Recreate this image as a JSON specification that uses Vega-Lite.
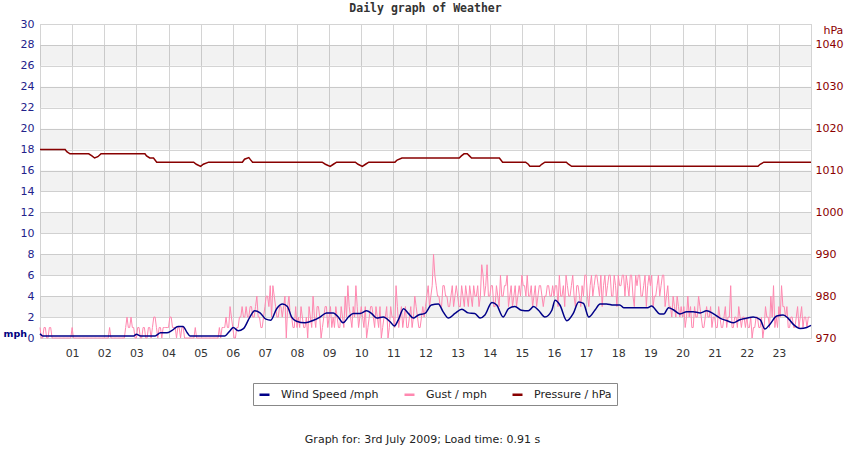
{
  "$schema": "https://vega.github.io/schema/vega-lite/v6.json",
  "width": 771,
  "height": 314,
  "autosize": "none",
  "padding": {"left": 40, "top": 24, "right": 39, "bottom": 112},
  "background": "white",
  "title": {
    "text": "Daily graph of Weather",
    "font": "DejaVu Sans Mono",
    "fontSize": 11.5,
    "fontWeight": "bold",
    "color": "#333333",
    "anchor": "middle",
    "baseline": "alphabetic",
    "offset": -5
  },
  "datasets": {
    "bands": [
      {"y1": 2, "y2": 4}, {"y1": 6, "y2": 8}, {"y1": 10, "y2": 12}, {"y1": 14, "y2": 16},
      {"y1": 18, "y2": 20}, {"y1": 22, "y2": 24}, {"y1": 26, "y2": 28}
    ],
    "gust": [
      {"m":0,"g":1},{"m":5,"g":0},{"m":10,"g":1},{"m":15,"g":0},{"m":20,"g":1},{"m":25,"g":0},{"m":30,"g":0},{"m":35,"g":0},{"m":40,"g":0},{"m":45,"g":0},{"m":50,"g":0},{"m":55,"g":0},
      {"m":60,"g":1},{"m":65,"g":0},{"m":70,"g":0},{"m":75,"g":0},{"m":80,"g":0},{"m":85,"g":0},{"m":90,"g":0},{"m":95,"g":0},{"m":100,"g":0},{"m":105,"g":0},{"m":110,"g":0},{"m":115,"g":0},
      {"m":120,"g":0},{"m":125,"g":0},{"m":130,"g":1},{"m":135,"g":0},{"m":140,"g":0},{"m":145,"g":0},{"m":150,"g":0},{"m":155,"g":0},{"m":160,"g":1},{"m":165,"g":1},{"m":170,"g":2},{"m":175,"g":1},
      {"m":180,"g":0},{"m":185,"g":1},{"m":190,"g":0},{"m":195,"g":1},{"m":200,"g":0},{"m":205,"g":1},{"m":210,"g":1},{"m":215,"g":2},{"m":220,"g":0},{"m":225,"g":1},{"m":230,"g":1},{"m":235,"g":1},
      {"m":240,"g":1},{"m":245,"g":2},{"m":250,"g":1},{"m":255,"g":0},{"m":260,"g":1},{"m":265,"g":1},{"m":270,"g":0},{"m":275,"g":0},{"m":280,"g":0},{"m":285,"g":0},{"m":290,"g":1},{"m":295,"g":0},
      {"m":300,"g":0},{"m":305,"g":0},{"m":310,"g":0},{"m":315,"g":0},{"m":320,"g":0},{"m":325,"g":0},{"m":330,"g":0},{"m":335,"g":1},{"m":340,"g":1},{"m":345,"g":1},{"m":350,"g":1},{"m":355,"g":3},
      {"m":360,"g":1},{"m":365,"g":0},{"m":370,"g":1},{"m":375,"g":2},{"m":380,"g":2},{"m":385,"g":3},{"m":390,"g":2},{"m":395,"g":3},{"m":400,"g":2},{"m":405,"g":4},{"m":410,"g":2},{"m":415,"g":1},
      {"m":420,"g":3},{"m":425,"g":4},{"m":430,"g":5},{"m":435,"g":5},{"m":440,"g":3},{"m":445,"g":2},{"m":450,"g":3},{"m":455,"g":3},{"m":460,"g":0},{"m":465,"g":4},{"m":470,"g":2},{"m":475,"g":1},
      {"m":480,"g":1},{"m":485,"g":1},{"m":490,"g":2},{"m":495,"g":1},{"m":500,"g":0},{"m":505,"g":2},{"m":510,"g":4},{"m":515,"g":1},{"m":520,"g":3},{"m":525,"g":0},{"m":530,"g":2},{"m":535,"g":3},
      {"m":540,"g":2},{"m":545,"g":1},{"m":550,"g":1},{"m":555,"g":2},{"m":560,"g":1},{"m":565,"g":2},{"m":570,"g":4},{"m":575,"g":5},{"m":580,"g":2},{"m":585,"g":3},{"m":590,"g":5},{"m":595,"g":1},
      {"m":600,"g":3},{"m":605,"g":1},{"m":610,"g":0},{"m":615,"g":2},{"m":620,"g":3},{"m":625,"g":1},{"m":630,"g":2},{"m":635,"g":3},{"m":640,"g":1},{"m":645,"g":2},{"m":650,"g":0},{"m":655,"g":3},
      {"m":660,"g":2},{"m":665,"g":5},{"m":670,"g":1},{"m":675,"g":3},{"m":680,"g":2},{"m":685,"g":1},{"m":690,"g":2},{"m":695,"g":1},{"m":700,"g":4},{"m":705,"g":2},{"m":710,"g":1},{"m":715,"g":3},
      {"m":720,"g":3},{"m":725,"g":5},{"m":730,"g":4},{"m":735,"g":8},{"m":740,"g":5},{"m":745,"g":4},{"m":750,"g":3},{"m":755,"g":5},{"m":760,"g":4},{"m":765,"g":3},{"m":770,"g":5},{"m":775,"g":4},
      {"m":780,"g":4},{"m":785,"g":3},{"m":790,"g":4},{"m":795,"g":5},{"m":800,"g":3},{"m":805,"g":4},{"m":810,"g":5},{"m":815,"g":4},{"m":820,"g":3},{"m":825,"g":7},{"m":830,"g":4},{"m":835,"g":7},
      {"m":840,"g":4},{"m":845,"g":5},{"m":850,"g":3},{"m":855,"g":4},{"m":860,"g":6},{"m":865,"g":4},{"m":870,"g":5},{"m":875,"g":3},{"m":880,"g":5},{"m":885,"g":4},{"m":890,"g":3},{"m":895,"g":5},
      {"m":900,"g":6},{"m":905,"g":5},{"m":910,"g":6},{"m":915,"g":4},{"m":920,"g":3},{"m":925,"g":5},{"m":930,"g":4},{"m":935,"g":5},{"m":940,"g":3},{"m":945,"g":4},{"m":950,"g":5},{"m":955,"g":4},
      {"m":960,"g":4},{"m":965,"g":5},{"m":970,"g":6},{"m":975,"g":4},{"m":980,"g":3},{"m":985,"g":5},{"m":990,"g":4},{"m":995,"g":6},{"m":1000,"g":3},{"m":1005,"g":5},{"m":1010,"g":3},{"m":1015,"g":4},
      {"m":1020,"g":6},{"m":1025,"g":3},{"m":1030,"g":6},{"m":1035,"g":5},{"m":1040,"g":6},{"m":1045,"g":4},{"m":1050,"g":3},{"m":1055,"g":6},{"m":1060,"g":5},{"m":1065,"g":6},{"m":1070,"g":4},{"m":1075,"g":5},
      {"m":1080,"g":6},{"m":1085,"g":5},{"m":1090,"g":6},{"m":1095,"g":6},{"m":1100,"g":4},{"m":1105,"g":6},{"m":1110,"g":3},{"m":1115,"g":5},{"m":1120,"g":6},{"m":1125,"g":4},{"m":1130,"g":6},{"m":1135,"g":5},
      {"m":1140,"g":5},{"m":1145,"g":3},{"m":1150,"g":4},{"m":1155,"g":6},{"m":1160,"g":5},{"m":1165,"g":6},{"m":1170,"g":4},{"m":1175,"g":3},{"m":1180,"g":2},{"m":1185,"g":3},{"m":1190,"g":4},{"m":1195,"g":2},
      {"m":1200,"g":2},{"m":1205,"g":1},{"m":1210,"g":4},{"m":1215,"g":3},{"m":1220,"g":1},{"m":1225,"g":2},{"m":1230,"g":4},{"m":1235,"g":2},{"m":1240,"g":1},{"m":1245,"g":3},{"m":1250,"g":2},{"m":1255,"g":1},
      {"m":1260,"g":2},{"m":1265,"g":1},{"m":1270,"g":2},{"m":1275,"g":1},{"m":1280,"g":3},{"m":1285,"g":2},{"m":1290,"g":5},{"m":1295,"g":1},{"m":1300,"g":2},{"m":1305,"g":3},{"m":1310,"g":1},{"m":1315,"g":2},
      {"m":1320,"g":2},{"m":1325,"g":1},{"m":1330,"g":0},{"m":1335,"g":1},{"m":1340,"g":2},{"m":1345,"g":1},{"m":1350,"g":0},{"m":1355,"g":3},{"m":1360,"g":2},{"m":1365,"g":4},{"m":1370,"g":5},{"m":1375,"g":2},
      {"m":1380,"g":3},{"m":1385,"g":5},{"m":1390,"g":3},{"m":1395,"g":3},{"m":1400,"g":1},{"m":1405,"g":2},{"m":1410,"g":1},{"m":1415,"g":3},{"m":1420,"g":2},{"m":1425,"g":1},{"m":1430,"g":2},{"m":1435,"g":2},
      {"m":2.5,"g":0},{"m":7.5,"g":1},{"m":12.5,"g":0},{"m":17.5,"g":1},{"m":22.5,"g":0},{"m":27.5,"g":0},{"m":32.5,"g":0},{"m":37.5,"g":0},{"m":42.5,"g":0},{"m":47.5,"g":0},{"m":52.5,"g":0},{"m":57.5,"g":0},
      {"m":62.5,"g":0},{"m":67.5,"g":0},{"m":72.5,"g":0},{"m":77.5,"g":0},{"m":82.5,"g":0},{"m":87.5,"g":0},{"m":92.5,"g":0},{"m":97.5,"g":0},{"m":102.5,"g":0},{"m":107.5,"g":0},{"m":112.5,"g":0},{"m":117.5,"g":0},
      {"m":122.5,"g":0},{"m":127.5,"g":0},{"m":132.5,"g":0},{"m":137.5,"g":0},{"m":142.5,"g":0},{"m":147.5,"g":0},{"m":152.5,"g":0},{"m":157.5,"g":0},{"m":162.5,"g":2},{"m":167.5,"g":1},{"m":172.5,"g":1},{"m":177.5,"g":0},
      {"m":182.5,"g":1},{"m":187.5,"g":0},{"m":192.5,"g":1},{"m":197.5,"g":0},{"m":202.5,"g":1},{"m":207.5,"g":0},{"m":212.5,"g":2},{"m":217.5,"g":1},{"m":222.5,"g":1},{"m":227.5,"g":0},{"m":232.5,"g":1},{"m":237.5,"g":1},
      {"m":242.5,"g":2},{"m":247.5,"g":1},{"m":252.5,"g":1},{"m":257.5,"g":1},{"m":262.5,"g":0},{"m":267.5,"g":1},{"m":272.5,"g":0},{"m":277.5,"g":0},{"m":282.5,"g":0},{"m":287.5,"g":0},{"m":292.5,"g":0},{"m":297.5,"g":0},
      {"m":302.5,"g":0},{"m":307.5,"g":0},{"m":312.5,"g":0},{"m":317.5,"g":0},{"m":322.5,"g":0},{"m":327.5,"g":0},{"m":332.5,"g":0},{"m":337.5,"g":0},{"m":342.5,"g":1},{"m":347.5,"g":2},{"m":352.5,"g":1},{"m":357.5,"g":2},
      {"m":362.5,"g":0},{"m":367.5,"g":1},{"m":372.5,"g":2},{"m":377.5,"g":3},{"m":382.5,"g":2},{"m":387.5,"g":2},{"m":392.5,"g":3},{"m":397.5,"g":2},{"m":402.5,"g":3},{"m":407.5,"g":2},{"m":412.5,"g":1},{"m":417.5,"g":2},
      {"m":422.5,"g":4},{"m":427.5,"g":3},{"m":432.5,"g":2},{"m":437.5,"g":4},{"m":442.5,"g":2},{"m":447.5,"g":3},{"m":452.5,"g":2},{"m":457.5,"g":4},{"m":462.5,"g":3},{"m":467.5,"g":2},{"m":472.5,"g":1},{"m":477.5,"g":3},
      {"m":482.5,"g":2},{"m":487.5,"g":3},{"m":492.5,"g":1},{"m":497.5,"g":2},{"m":502.5,"g":3},{"m":507.5,"g":1},{"m":512.5,"g":2},{"m":517.5,"g":3},{"m":522.5,"g":2},{"m":527.5,"g":1},{"m":532.5,"g":3},{"m":537.5,"g":1},
      {"m":542.5,"g":3},{"m":547.5,"g":2},{"m":552.5,"g":3},{"m":557.5,"g":1},{"m":562.5,"g":3},{"m":567.5,"g":1},{"m":572.5,"g":2},{"m":577.5,"g":3},{"m":582.5,"g":1},{"m":587.5,"g":2},{"m":592.5,"g":3},{"m":597.5,"g":2},
      {"m":602.5,"g":2},{"m":607.5,"g":3},{"m":612.5,"g":1},{"m":617.5,"g":3},{"m":622.5,"g":2},{"m":627.5,"g":3},{"m":632.5,"g":1},{"m":637.5,"g":0},{"m":642.5,"g":2},{"m":647.5,"g":3},{"m":652.5,"g":1},{"m":657.5,"g":2},
      {"m":662.5,"g":1},{"m":667.5,"g":3},{"m":672.5,"g":2},{"m":677.5,"g":1},{"m":682.5,"g":3},{"m":687.5,"g":1},{"m":692.5,"g":3},{"m":697.5,"g":2},{"m":702.5,"g":3},{"m":707.5,"g":1},{"m":712.5,"g":2},{"m":717.5,"g":2},
      {"m":722.5,"g":4},{"m":727.5,"g":3},{"m":732.5,"g":5},{"m":737.5,"g":6},{"m":742.5,"g":4},{"m":747.5,"g":3},{"m":752.5,"g":5},{"m":757.5,"g":4},{"m":762.5,"g":3},{"m":767.5,"g":4},{"m":772.5,"g":3},{"m":777.5,"g":5},
      {"m":782.5,"g":3},{"m":787.5,"g":5},{"m":792.5,"g":3},{"m":797.5,"g":4},{"m":802.5,"g":5},{"m":807.5,"g":3},{"m":812.5,"g":4},{"m":817.5,"g":5},{"m":822.5,"g":4},{"m":827.5,"g":6},{"m":832.5,"g":5},{"m":837.5,"g":4},
      {"m":842.5,"g":5},{"m":847.5,"g":3},{"m":852.5,"g":5},{"m":857.5,"g":3},{"m":862.5,"g":4},{"m":867.5,"g":5},{"m":872.5,"g":6},{"m":877.5,"g":4},{"m":882.5,"g":3},{"m":887.5,"g":5},{"m":892.5,"g":4},{"m":897.5,"g":4},
      {"m":902.5,"g":5},{"m":907.5,"g":4},{"m":912.5,"g":4},{"m":917.5,"g":5},{"m":922.5,"g":4},{"m":927.5,"g":3},{"m":932.5,"g":5},{"m":937.5,"g":4},{"m":942.5,"g":4},{"m":947.5,"g":5},{"m":952.5,"g":4},{"m":957.5,"g":5},
      {"m":962.5,"g":5},{"m":967.5,"g":3},{"m":972.5,"g":4},{"m":977.5,"g":5},{"m":982.5,"g":6},{"m":987.5,"g":4},{"m":992.5,"g":5},{"m":997.5,"g":4},{"m":1002.5,"g":5},{"m":1007.5,"g":4},{"m":1012.5,"g":5},{"m":1017.5,"g":6},
      {"m":1022.5,"g":4},{"m":1027.5,"g":5},{"m":1032.5,"g":4},{"m":1037.5,"g":6},{"m":1042.5,"g":5},{"m":1047.5,"g":6},{"m":1052.5,"g":5},{"m":1057.5,"g":4},{"m":1062.5,"g":6},{"m":1067.5,"g":4},{"m":1072.5,"g":6},{"m":1077.5,"g":3},
      {"m":1082.5,"g":5},{"m":1087.5,"g":6},{"m":1092.5,"g":4},{"m":1097.5,"g":5},{"m":1102.5,"g":6},{"m":1107.5,"g":4},{"m":1112.5,"g":6},{"m":1117.5,"g":6},{"m":1122.5,"g":4},{"m":1127.5,"g":5},{"m":1132.5,"g":3},{"m":1137.5,"g":6},
      {"m":1142.5,"g":6},{"m":1147.5,"g":4},{"m":1152.5,"g":5},{"m":1157.5,"g":4},{"m":1162.5,"g":6},{"m":1167.5,"g":3},{"m":1172.5,"g":5},{"m":1177.5,"g":3},{"m":1182.5,"g":4},{"m":1187.5,"g":2},{"m":1192.5,"g":3},{"m":1197.5,"g":3},
      {"m":1202.5,"g":3},{"m":1207.5,"g":2},{"m":1212.5,"g":2},{"m":1217.5,"g":1},{"m":1222.5,"g":3},{"m":1227.5,"g":2},{"m":1232.5,"g":3},{"m":1237.5,"g":1},{"m":1242.5,"g":2},{"m":1247.5,"g":2},{"m":1252.5,"g":3},{"m":1257.5,"g":2},
      {"m":1262.5,"g":1},{"m":1267.5,"g":3},{"m":1272.5,"g":1},{"m":1277.5,"g":2},{"m":1282.5,"g":1},{"m":1287.5,"g":2},{"m":1292.5,"g":1},{"m":1297.5,"g":2},{"m":1302.5,"g":1},{"m":1307.5,"g":2},{"m":1312.5,"g":2},{"m":1317.5,"g":1},
      {"m":1322.5,"g":1},{"m":1327.5,"g":2},{"m":1332.5,"g":1},{"m":1337.5,"g":2},{"m":1342.5,"g":1},{"m":1347.5,"g":2},{"m":1352.5,"g":1},{"m":1357.5,"g":2},{"m":1362.5,"g":1},{"m":1367.5,"g":2},{"m":1372.5,"g":1},{"m":1377.5,"g":1},
      {"m":1382.5,"g":2},{"m":1387.5,"g":3},{"m":1392.5,"g":2},{"m":1397.5,"g":1},{"m":1402.5,"g":2},{"m":1407.5,"g":1},{"m":1412.5,"g":2},{"m":1417.5,"g":1},{"m":1422.5,"g":3},{"m":1427.5,"g":2},{"m":1432.5,"g":1},{"m":1437.5,"g":2}
    ],
    "wind": [
      {"m":0,"w":0.4},{"m":5,"w":0.2},{"m":175,"w":0.2},{"m":180,"w":0.35},{"m":188,"w":0.2},{"m":215,"w":0.2},{"m":225,"w":0.5},{"m":237,"w":0.5},{"m":246,"w":0.7},{"m":258,"w":1.1},{"m":267,"w":1.1},{"m":275,"w":0.5},{"m":280,"w":0.2},
      {"m":345,"w":0.2},{"m":350,"w":0.4},{"m":355,"w":0.7},{"m":361,"w":1.0},{"m":370,"w":0.7},{"m":380,"w":0.9},{"m":392,"w":2.0},{"m":401,"w":2.6},{"m":411,"w":2.4},{"m":422,"w":1.8},{"m":431,"w":1.7},{"m":442,"w":2.8},{"m":453,"w":3.25},{"m":462,"w":3.0},{"m":470,"w":2.0},{"m":479,"w":1.6},
      {"m":495,"w":1.45},{"m":511,"w":1.7},{"m":523,"w":2.0},{"m":535,"w":2.4},{"m":548,"w":2.4},{"m":557,"w":2.0},{"m":566,"w":1.45},{"m":576,"w":2.0},{"m":585,"w":2.35},{"m":598,"w":2.35},{"m":610,"w":2.6},{"m":619,"w":2.35},{"m":629,"w":1.9},{"m":641,"w":2.0},
      {"m":654,"w":1.55},{"m":662,"w":1.15},{"m":669,"w":1.7},{"m":679,"w":2.8},{"m":688,"w":2.35},{"m":697,"w":1.9},{"m":707,"w":2.2},{"m":719,"w":2.35},{"m":731,"w":3.15},{"m":744,"w":3.25},{"m":753,"w":2.5},{"m":763,"w":1.9},{"m":775,"w":2.35},{"m":788,"w":2.75},
      {"m":800,"w":2.4},{"m":812,"w":2.35},{"m":822,"w":1.9},{"m":831,"w":2.2},{"m":844,"w":3.4},{"m":853,"w":3.15},{"m":865,"w":2.0},{"m":875,"w":2.8},{"m":887,"w":3.0},{"m":899,"w":2.65},{"m":912,"w":2.6},{"m":922,"w":3.0},{"m":931,"w":2.65},{"m":943,"w":2.0},
      {"m":956,"w":2.65},{"m":962,"w":3.6},{"m":971,"w":3.15},{"m":984,"w":1.65},{"m":996,"w":2.35},{"m":1006,"w":3.45},{"m":1015,"w":3.3},{"m":1025,"w":2.0},{"m":1037,"w":2.7},{"m":1046,"w":3.25},{"m":1058,"w":3.25},{"m":1071,"w":3.15},{"m":1083,"w":3.15},{"m":1090,"w":2.9},
      {"m":1135,"w":2.9},{"m":1142,"w":3.05},{"m":1158,"w":2.3},{"m":1165,"w":2.3},{"m":1174,"w":2.9},{"m":1183,"w":2.7},{"m":1195,"w":2.3},{"m":1208,"w":2.5},{"m":1220,"w":2.5},{"m":1233,"w":2.4},{"m":1245,"w":2.6},{"m":1258,"w":2.3},{"m":1270,"w":1.9},{"m":1283,"w":1.65},
      {"m":1295,"w":1.45},{"m":1307,"w":1.75},{"m":1320,"w":1.9},{"m":1332,"w":2.0},{"m":1345,"w":1.75},{"m":1354,"w":0.85},{"m":1363,"w":1.3},{"m":1376,"w":2.1},{"m":1388,"w":2.2},{"m":1397,"w":1.9},{"m":1407,"w":1.3},{"m":1420,"w":0.9},{"m":1432,"w":1.0},{"m":1440,"w":1.2}
    ],
    "pressure": [
      {"m":0,"p":1015},{"m":47,"p":1015},{"m":50,"p":1014.5},{"m":56,"p":1014},{"m":91,"p":1014},{"m":97,"p":1013.5},{"m":102,"p":1013},{"m":108,"p":1013.3},{"m":114,"p":1014},
      {"m":196,"p":1014},{"m":199,"p":1013.5},{"m":205,"p":1013},{"m":212,"p":1013},{"m":218,"p":1012},{"m":287,"p":1012},{"m":292,"p":1011.5},{"m":300,"p":1011},{"m":305,"p":1011.5},{"m":315,"p":1012},
      {"m":378,"p":1012},{"m":382,"p":1012.7},{"m":390,"p":1013.1},{"m":393,"p":1012.6},{"m":397,"p":1012},{"m":527,"p":1012},{"m":533,"p":1011.5},{"m":542,"p":1011},{"m":548,"p":1011.5},{"m":554,"p":1012},
      {"m":589,"p":1012},{"m":594,"p":1011.5},{"m":602,"p":1011},{"m":608,"p":1011.5},{"m":614,"p":1012},{"m":663,"p":1012},{"m":667,"p":1012.5},{"m":676,"p":1013},{"m":783,"p":1013},{"m":787,"p":1013.5},
      {"m":792,"p":1014},{"m":798,"p":1014},{"m":802,"p":1013.5},{"m":806,"p":1013},{"m":858,"p":1013},{"m":864,"p":1012},{"m":907,"p":1012},{"m":912,"p":1011.5},{"m":915,"p":1011},{"m":933,"p":1011},
      {"m":937,"p":1011.5},{"m":943,"p":1012},{"m":983,"p":1012},{"m":987,"p":1011.5},{"m":993,"p":1011},{"m":1341,"p":1011},{"m":1345,"p":1011.5},{"m":1352,"p":1012},{"m":1440,"p":1012}
    ]
  },
  "layer": [
    {
      "data": {"name": "bands"},
      "mark": {"type": "rect", "color": "#000000", "opacity": 0.05},
      "encoding": {
        "y": {"field": "y1", "type": "quantitative", "scale": {"domain": [0, 30], "nice": false}, "axis": null},
        "y2": {"field": "y2"}
      }
    },
    {
      "data": {"name": "gust"},
      "mark": {"type": "line", "strokeWidth": 1},
      "encoding": {
        "x": {
          "field": "m", "type": "quantitative",
          "scale": {"domain": [0, 1440], "nice": false, "zero": false},
          "axis": {
            "orient": "bottom",
            "values": [0,60,120,180,240,300,360,420,480,540,600,660,720,780,840,900,960,1020,1080,1140,1200,1260,1320,1380,1440],
            "labelExpr": "datum.value == 0 || datum.value == 1440 ? '' : (datum.value < 600 ? '0' : '') + (datum.value / 60)",
            "labelOverlap": false,
            "grid": true, "gridColor": "#d4d4d4", "ticks": false, "domain": false,
            "labelFont": "DejaVu Sans", "labelFontSize": 11, "labelColor": "#333333", "labelPadding": 9,
            "title": "Graph for: 3rd July 2009; Load time: 0.91 s",
            "titleFont": "DejaVu Sans", "titleFontSize": 11, "titleFontWeight": "normal", "titleColor": "#222222",
            "titleX": 382, "titleY": 104, "titleAlign": "center", "titleBaseline": "alphabetic"
          }
        },
        "y": {"field": "g", "type": "quantitative", "scale": {"domain": [0, 30], "nice": false}, "axis": null},
        "color": {"datum": "Gust / mph"}
      }
    },
    {
      "data": {"name": "wind"},
      "mark": {"type": "line", "strokeWidth": 1.5, "interpolate": "monotone"},
      "encoding": {
        "x": {
          "field": "m", "type": "quantitative",
          "scale": {"domain": [0, 1440], "nice": false, "zero": false},
          "axis": {
            "orient": "bottom",
            "values": [0,60,120,180,240,300,360,420,480,540,600,660,720,780,840,900,960,1020,1080,1140,1200,1260,1320,1380,1440],
            "labelExpr": "datum.value == 0 || datum.value == 1440 ? '' : (datum.value < 600 ? '0' : '') + (datum.value / 60)",
            "labelOverlap": false,
            "grid": true, "gridColor": "#d4d4d4", "ticks": false, "domain": false,
            "labelFont": "DejaVu Sans", "labelFontSize": 11, "labelColor": "#333333", "labelPadding": 9,
            "title": "Graph for: 3rd July 2009; Load time: 0.91 s",
            "titleFont": "DejaVu Sans", "titleFontSize": 11, "titleFontWeight": "normal", "titleColor": "#222222",
            "titleX": 382, "titleY": 104, "titleAlign": "center", "titleBaseline": "alphabetic"
          }
        },
        "y": {
          "field": "w", "type": "quantitative",
          "scale": {"domain": [0, 30], "nice": false},
          "axis": {
            "orient": "left",
            "values": [0,2,4,6,8,10,12,14,16,18,20,22,24,26,28,30],
            "grid": true, "gridColor": "#d4d4d4", "ticks": false, "domain": false,
            "labelFont": "DejaVu Sans", "labelFontSize": 11, "labelColor": "#22228b", "labelPadding": 6,
            "title": "mph", "titleAngle": 0, "titleFont": "DejaVu Sans", "titleFontSize": 9.5, "titleFontWeight": "bold",
            "titleColor": "#000080", "titleX": -37, "titleY": 312, "titleAlign": "left", "titleBaseline": "alphabetic"
          }
        },
        "color": {"datum": "Wind Speed /mph"}
      }
    },
    {
      "data": {"name": "pressure"},
      "mark": {"type": "line", "strokeWidth": 1.5},
      "encoding": {
        "x": {
          "field": "m", "type": "quantitative",
          "scale": {"domain": [0, 1440], "nice": false, "zero": false},
          "axis": {
            "orient": "bottom",
            "values": [0,60,120,180,240,300,360,420,480,540,600,660,720,780,840,900,960,1020,1080,1140,1200,1260,1320,1380,1440],
            "labelExpr": "datum.value == 0 || datum.value == 1440 ? '' : (datum.value < 600 ? '0' : '') + (datum.value / 60)",
            "labelOverlap": false,
            "grid": true, "gridColor": "#d4d4d4", "ticks": false, "domain": false,
            "labelFont": "DejaVu Sans", "labelFontSize": 11, "labelColor": "#333333", "labelPadding": 9,
            "title": "Graph for: 3rd July 2009; Load time: 0.91 s",
            "titleFont": "DejaVu Sans", "titleFontSize": 11, "titleFontWeight": "normal", "titleColor": "#222222",
            "titleX": 382, "titleY": 104, "titleAlign": "center", "titleBaseline": "alphabetic"
          }
        },
        "y": {
          "field": "p", "type": "quantitative",
          "scale": {"domain": [970, 1045], "nice": false, "zero": false},
          "axis": {
            "orient": "right",
            "values": [970,980,990,1000,1010,1020,1030,1040],
            "format": "d",
            "grid": false, "ticks": false, "domain": false,
            "labelFont": "DejaVu Sans", "labelFontSize": 11, "labelColor": "#8b0000", "labelPadding": 4,
            "title": "hPa", "titleAngle": 0, "titleFont": "DejaVu Sans", "titleFontSize": 11, "titleFontWeight": "normal",
            "titleColor": "#8b0000", "titleX": 12, "titleY": 9, "titleAlign": "left", "titleBaseline": "alphabetic"
          }
        },
        "color": {
          "datum": "Pressure / hPa",
          "scale": {
            "domain": ["Wind Speed /mph", "Gust / mph", "Pressure / hPa"],
            "range": ["#000088", "#ff88b0", "#880000"]
          },
          "legend": {
            "orient": "none",
            "legendX": 213,
            "legendY": 359,
            "direction": "horizontal",
            "title": null,
            "symbolType": "stroke",
            "symbolSize": 100,
            "symbolStrokeWidth": 2.5,
            "labelFont": "DejaVu Sans",
            "labelFontSize": 11,
            "labelColor": "#222222",
            "labelOffset": 10,
            "columnPadding": 20,
            "padding": 5,
            "strokeColor": "#888888",
            "fillColor": "#ffffff"
          }
        }
      }
    }
  ],
  "resolve": {"scale": {"y": "independent"}, "axis": {"y": "independent"}},
  "config": {
    "view": {"stroke": "#c8c8c8"}
  }
}
